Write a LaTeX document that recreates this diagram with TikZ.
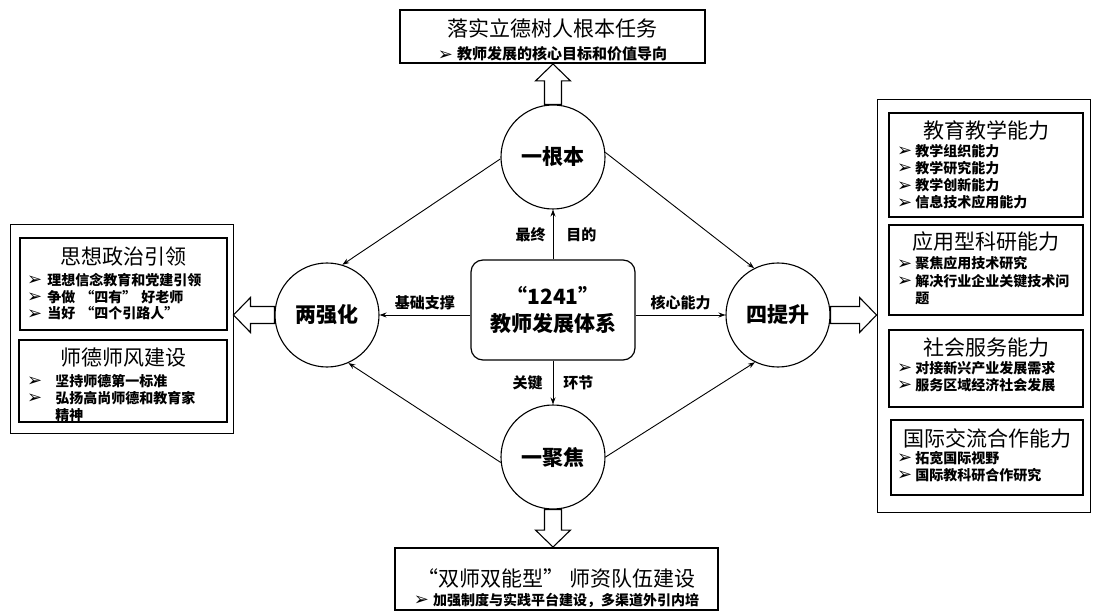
\documentclass[tikz,border=0pt]{standalone}
\usepackage{fontspec}
\setmainfont{Noto Sans CJK SC}
\newfontfamily\symf{DejaVu Sans}
\usetikzlibrary{arrows.meta, positioning, calc, fit}

\newcommand{\bul}{\raisebox{-0.5pt}{\symf\fontsize{18}{12}\selectfont ➢}}
\newcommand{\qsp}{\hspace{5pt}}
% hollow block arrow: tail, angle, length
\newcommand{\fatarrow}[3]{%
  \draw[fatline, shift={(#1)}, rotate=#2]
    (0,8.5) -- (#3-17,8.5) -- (#3-17,17.5) -- (#3,0) -- (#3-17,-17.5)
    -- (#3-17,-8.5) -- (0,-8.5) -- cycle;}

\tikzset{
  hub/.style={circle, draw, line width=1.1pt, minimum size=104pt, inner sep=0pt,
              font=\fontsize{21}{21}\selectfont\bfseries},
  core/.style={draw, line width=1.2pt, rounded corners=12pt, align=center,
               minimum width=164pt, minimum height=100pt,
               font=\fontsize{21}{27}\selectfont\bfseries},
  link/.style={-{Stealth[length=7pt, width=5pt]}, line width=0.9pt},
  tag/.style={font=\fontsize{15}{15}\selectfont\bfseries, inner sep=1pt},
  outerbox/.style={draw, line width=1pt, inner sep=0pt},
  innerbox/.style={draw, line width=2pt, inner sep=0pt},
  boxtitle/.style={font=\fontsize{21}{21}\selectfont, inner sep=0pt},
  subline/.style={font=\fontsize{15}{15}\selectfont\bfseries, inner sep=0pt},
  itemlist/.style={inner sep=0pt, anchor=north west},
  fatline/.style={line width=1.1pt, fill=white}
}

\begin{document}
\begin{tikzpicture}[x=1pt, y=-1pt]
  \useasboundingbox (0,0) rectangle (1095,612);

  % Core system and the four parts
  \node[core] (core) at (553,310) {“1241”\\教师发展体系};
  \node[hub] (root) at (553,157) {一根本};
  \node[hub] (twostr) at (327,315) {两强化};
  \node[hub] (foursup) at (778,315) {四提升};
  \node[hub] (focus) at (553,457) {一聚焦};

  % Links from the core
  \draw[link] (core) -- (root)
    node[midway, tag, left=6pt] {最终} node[midway, tag, right=12pt] {目的};
  \draw[link] (core) -- (focus)
    node[midway, tag, left=9pt] {关键} node[midway, tag, right=9pt] {环节};
  \draw[link] (core.west |- twostr) -- (twostr)
    node[midway, tag, above=4pt] {基础支撑};
  \draw[link] (core.east |- foursup) -- (foursup)
    node[midway, tag, above=4pt] {核心能力};

  % Outer ring
  \draw[link] (root.182) -- (twostr.73);
  \draw[link] (root.5) -- (foursup.117);
  \draw[link] (focus.186) -- (twostr.294);
  \draw[link] (focus.0) -- (foursup.244);

  % Top box
  \node[innerbox, fit={(400,10) (705,63)}] (task) {};
  \node[boxtitle] at (552.5,28) {落实立德树人根本任务};
  \node[subline] at (552.5,54) {\bul\hspace{4pt}教师发展的核心目标和价值导向};

  % Bottom box
  \node[innerbox, fit={(395,548) (718,610)}] (team) {};
  \node[boxtitle] at (556.5,578) {“双师双能型”\qsp 师资队伍建设};
  \node[subline, font=\fontsize{14}{14}\selectfont\bfseries] at (556.5,600)
    {\bul\hspace{4pt}加强制度与实践平台建设，多渠道外引内培};

  % Left boxes
  \node[outerbox, fit={(10,225) (233,433)}] (twobox) {};
  \node[innerbox, fit={(20,238) (227,330)}] (ideo) {};
  \node[boxtitle] at (123.5,257) {思想政治引领};
  \node[itemlist, font=\fontsize{14}{15}\selectfont\bfseries] (ideoitems) at (27,273)
    {\begin{tabular}{@{}l@{\hspace{5pt}}l@{}}
      \bul & 理想信念教育和党建引领\\
      \bul & 争做\qsp“四有”\qsp 好老师\\
      \bul & 当好\qsp“四个引路人”
    \end{tabular}};
  \node[innerbox, fit={(19,340) (227,422)}] (ethic) {};
  \node[boxtitle] at (123,358) {师德师风建设};
  \node[itemlist, font=\fontsize{14}{16.5}\selectfont\bfseries] (ethicitems) at (27,374)
    {\begin{tabular}{@{}l@{\hspace{13pt}}l@{}}
      \bul & 坚持师德第一标准\\
      \bul & 弘扬高尚师德和教育家\\
           & 精神
    \end{tabular}};

  % Right boxes
  \node[outerbox, fit={(877,100) (1090,512)}] (fourbox) {};
  \node[innerbox, fit={(889,113) (1083,217)}] (teach) {};
  \node[boxtitle] at (986,130) {教育教学能力};
  \node[itemlist, font=\fontsize{14}{16.7}\selectfont\bfseries] (teachitems) at (897,144)
    {\begin{tabular}{@{}l@{\hspace{3pt}}l@{}}
      \bul & 教学组织能力\\
      \bul & 教学研究能力\\
      \bul & 教学创新能力\\
      \bul & 信息技术应用能力
    \end{tabular}};
  \node[innerbox, fit={(889,225) (1083,315)}] (research) {};
  \node[boxtitle] at (986,242) {应用型科研能力};
  \node[itemlist, font=\fontsize{14}{17}\selectfont\bfseries] (researchitems) at (897,256.5)
    {\begin{tabular}{@{}l@{\hspace{3pt}}l@{}}
      \bul & 聚焦应用技术研究\\
      \bul & 解决行业企业关键技术问\\
           & 题
    \end{tabular}};
  \node[innerbox, fit={(889,330) (1083,407)}] (service) {};
  \node[boxtitle] at (986,348) {社会服务能力};
  \node[itemlist, font=\fontsize{14}{16}\selectfont\bfseries] (serviceitems) at (897,361)
    {\begin{tabular}{@{}l@{\hspace{3pt}}l@{}}
      \bul & 对接新兴产业发展需求\\
      \bul & 服务区域经济社会发展
    \end{tabular}};
  \node[innerbox, fit={(891,420) (1083,495)}] (intl) {};
  \node[boxtitle] at (987,438) {国际交流合作能力};
  \node[itemlist, font=\fontsize{14}{16}\selectfont\bfseries] (intlitems) at (897,451)
    {\begin{tabular}{@{}l@{\hspace{3pt}}l@{}}
      \bul & 拓宽国际视野\\
      \bul & 国际教科研合作研究
    \end{tabular}};

  % Hollow arrows out to the boxes
  \fatarrow{root.north}{90}{40.5}
  \fatarrow{twostr.west}{180}{41}
  \fatarrow{foursup.east}{0}{46}
  \fatarrow{focus.south}{-90}{37.5}
\end{tikzpicture}
\end{document}
